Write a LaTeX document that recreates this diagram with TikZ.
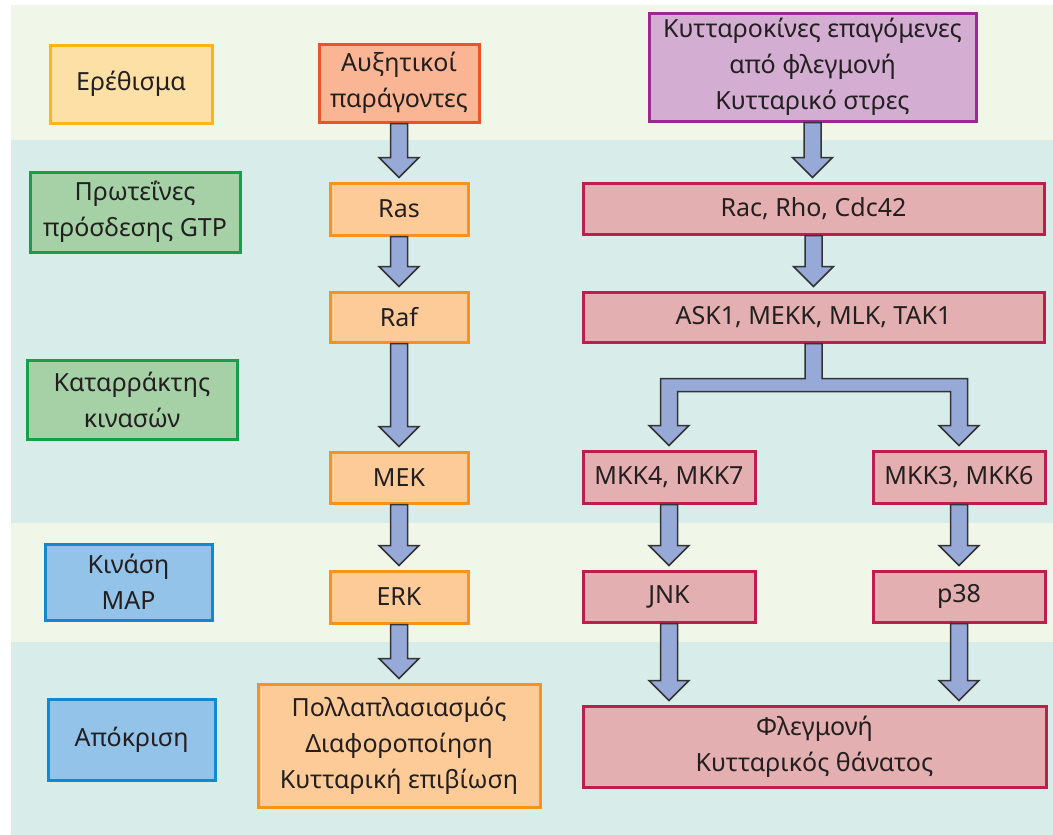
\documentclass[tikz,border=0pt]{standalone}
\usepackage{fontspec}
\setmainfont{Noto Sans}
\usepackage{tikz}
\usetikzlibrary{calc}

\definecolor{bandcream}{HTML}{F0F6E8}
\definecolor{bandteal}{HTML}{D8EDEA}
\definecolor{yelfill}{HTML}{FDE0A5}
\definecolor{yeldraw}{HTML}{FDB515}
\definecolor{redfill}{HTML}{F9B594}
\definecolor{reddraw}{HTML}{EE5226}
\definecolor{purfill}{HTML}{D4AED2}
\definecolor{purdraw}{HTML}{9B2A8F}
\definecolor{grnfill}{HTML}{A6D1A7}
\definecolor{grndraw}{HTML}{14A048}
\definecolor{orgfill}{HTML}{FDCB98}
\definecolor{orgdraw}{HTML}{F7921E}
\definecolor{pnkfill}{HTML}{E4AFB0}
\definecolor{pnkdraw}{HTML}{BE1E4D}
\definecolor{blufill}{HTML}{93C3E8}
\definecolor{bludraw}{HTML}{1288CF}
\definecolor{arrfill}{HTML}{97A9D7}
\definecolor{arrdraw}{HTML}{333333}
\definecolor{txt}{HTML}{231F20}

\begin{document}
\begin{tikzpicture}[x=1pt,y=-1pt,
    box/.style={rectangle,line width=3pt,inner sep=0pt,align=center,text=txt,
      font=\fontsize{25}{36}\selectfont},
    yelbox/.style={box,fill=yelfill,draw=yeldraw},
    redbox/.style={box,fill=redfill,draw=reddraw},
    purbox/.style={box,fill=purfill,draw=purdraw},
    grnbox/.style={box,fill=grnfill,draw=grndraw},
    orgbox/.style={box,fill=orgfill,draw=orgdraw},
    pnkbox/.style={box,fill=pnkfill,draw=pnkdraw},
    blubox/.style={box,fill=blufill,draw=bludraw},
    blockarrow/.style={fill=arrfill,draw=arrdraw,line width=1.5pt,line join=miter}]
    \useasboundingbox (0,0) rectangle (1053,835);
    \fill[bandcream] (11,5) rectangle (1053,140);
    \fill[bandteal] (11,140) rectangle (1053,523);
    \fill[bandcream] (11,523) rectangle (1053,642);
    \fill[bandteal] (11,642) rectangle (1053,835);

    \node[yelbox,minimum width=162pt,minimum height=78pt] (erethisma) at (131,84) {Ερέθισμα};
    \node[grnbox,minimum width=210pt,minimum height=80pt] (proteines) at (135,212) {Πρωτεΐνες\\πρόσδεσης GTP};
    \node[grnbox,minimum width=210pt,minimum height=79pt] (katarr) at (132,399.5) {Καταρράκτης\\κινασών};
    \node[blubox,minimum width=167pt,minimum height=76pt] (kinasi) at (128.5,582) {Κινάση\\MAP};
    \node[blubox,minimum width=167pt,minimum height=81pt] (apokrisi) at (131.5,739.5) {Απόκριση};

    \node[redbox,minimum width=160pt,minimum height=78pt] (afx) at (399,83) {Αυξητικοί\\παράγοντες};
    \node[orgbox,minimum width=138pt,minimum height=52pt] (ras) at (399,209) {Ras};
    \node[orgbox,minimum width=138pt,minimum height=50pt] (raf) at (399,317) {Raf};
    \node[orgbox,minimum width=138pt,minimum height=51pt] (mek) at (399,477.5) {MEK};
    \node[orgbox,minimum width=138pt,minimum height=52pt] (erk) at (399,597) {ERK};
    \node[orgbox,minimum width=282pt,minimum height=123pt] (pollapl) at (399,745.5)
        {Πολλαπλασιασμός\\Διαφοροποίηση\\Κυτταρική επιβίωση};

    \node[purbox,minimum width=327pt,minimum height=108pt] (kyttaro) at (812.5,67)
        {Κυτταροκίνες επαγόμενες\\από φλεγμονή\\Κυτταρικό στρες};
    \node[pnkbox,minimum width=461pt,minimum height=51pt] (rac) at (813.5,208.5) {Rac, Rho, Cdc42};
    \node[pnkbox,minimum width=461pt,minimum height=50pt] (ask) at (813.5,317) {ASK1, MEKK, MLK, TAK1};
    \node[pnkbox,minimum width=172pt,minimum height=52pt] (mkka) at (669,477) {MKK4, MKK7};
    \node[pnkbox,minimum width=172pt,minimum height=52pt] (mkkb) at (959,477) {MKK3, MKK6};
    \node[pnkbox,minimum width=172pt,minimum height=51pt] (jnk) at (669,596.5) {JNK};
    \node[pnkbox,minimum width=172pt,minimum height=51pt] (p38) at (959,596.5) {p38};
    \node[pnkbox,minimum width=463pt,minimum height=81pt] (fleg) at (814.5,746.5)
        {Φλεγμονή\\Κυτταρικός θάνατος};

    \foreach \a/\b in {afx/ras,ras/raf,raf/mek,mek/erk,erk/pollapl,kyttaro/rac,rac/ask,
        mkka/jnk,mkkb/p38,jnk/fleg,p38/fleg}
      \draw[blockarrow] ($(\a.south)+(-8.5,0)$) -- ($(\a.south |- \b.north)+(-8.5,-24)$)
        -- ++(-11.5,0) -- ($(\a.south |- \b.north)+(0,-4)$) -- ++(20,-20) -- ++(-11.5,0)
        -- ($(\a.south)+(8.5,0)$) -- cycle;

    \draw[blockarrow] ($(ask.south)+(-8.5,0)$) -- ++(0,35) -| ($(mkka.north)+(-8.5,-24)$)
        -- ++(-11.5,0) -- ($(mkka.north)+(0,-4)$) -- ++(20,-20) -- ++(-11.5,0)
        |- ($(mkkb.north)+(-8.5,-58)$) -- ++(0,34) -- ++(-11.5,0) -- ($(mkkb.north)+(0,-4)$)
        -- ++(20,-20) -- ++(-11.5,0) |- ($(ask.south)+(8.5,35)$) -- ++(0,-35) -- cycle;
\end{tikzpicture}
\end{document}
